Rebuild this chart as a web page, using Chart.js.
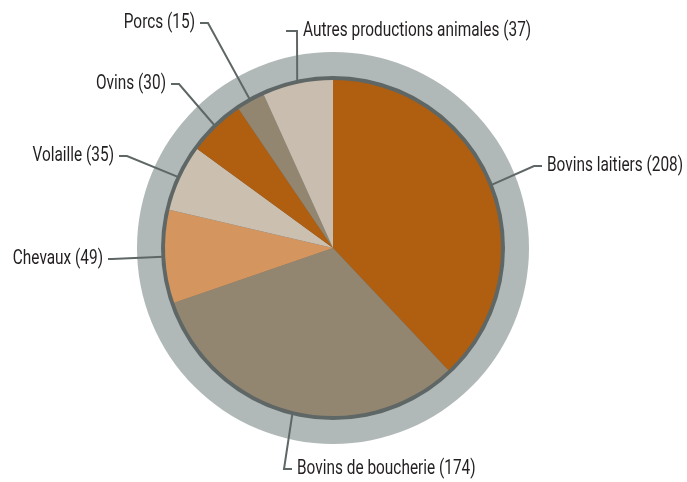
<!DOCTYPE html>
<html>
<head>
<meta charset="utf-8">
<script src="https://cdn.jsdelivr.net/npm/chart.js@4.4.0/dist/chart.umd.min.js"></script>
<style>
  html, body { margin: 0; padding: 0; background: #fff; }
  #wrap { width: 687px; height: 482px; position: relative; }
</style>
</head>
<body>
<div id="wrap"><canvas id="c" width="687" height="482"></canvas></div>
<script>
// data, clockwise from 12 o'clock
const categories = ['Bovins laitiers', 'Bovins de boucherie', 'Chevaux', 'Volaille', 'Ovins', 'Porcs', 'Autres productions animales'];
const values = [208, 174, 49, 35, 30, 15, 37];
const colors = ['#b05e0f', '#938670', '#d4955f', '#cbbfb0', '#b05e0f', '#938670', '#c8bdae'];

// label elbows (where the leader line turns horizontal) and text side
const labelSpots = [
  { x: 534, y: 166, side: 'right' },
  { x: 284, y: 469, side: 'right' },
  { x: 112, y: 259, side: 'left', stub: 4 },
  { x: 127, y: 156, side: 'left' },
  { x: 179, y: 84, side: 'left' },
  { x: 208, y: 23, side: 'left' },
  { x: 297, y: 31, side: 'left', flip: true }
];

const RING = '#b1b9b8';
const DARK = '#5e6766';
const FONT = '20px Roboto, "Liberation Sans", sans-serif';
const SQUEEZE = 0.77; // condensed look

function drawText(ctx, txt, x, y, align) {
  const w = ctx.measureText(txt).width * SQUEEZE;
  const left = align === 'right' ? x - w : x;
  ctx.save();
  ctx.translate(left, y);
  ctx.scale(SQUEEZE, 1);
  ctx.textAlign = 'left';
  ctx.fillText(txt, 0, 0);
  ctx.restore();
}

const ringPlugin = {
  id: 'ring',
  beforeDatasetsDraw(chart) {
    const arc = chart.getDatasetMeta(0).data[0];
    const { x, y, outerRadius } = arc;
    const ctx = chart.ctx;
    ctx.save();
    ctx.fillStyle = RING;
    ctx.beginPath(); ctx.arc(x, y, outerRadius + 28, 0, Math.PI * 2); ctx.fill();
    ctx.fillStyle = DARK;
    ctx.beginPath(); ctx.arc(x, y, outerRadius + 4, 0, Math.PI * 2); ctx.fill();
    ctx.restore();
  },
  afterDatasetsDraw(chart) {
    const ctx = chart.ctx;
    const arcs = chart.getDatasetMeta(0).data;
    ctx.save();
    ctx.strokeStyle = DARK;
    ctx.lineWidth = 2;
    ctx.font = FONT;
    ctx.fillStyle = '#231f20';
    ctx.textBaseline = 'middle';
    arcs.forEach((a, i) => {
      const mid = (a.startAngle + a.endAngle) / 2;
      const r = a.outerRadius + 2;
      const sx = a.x + Math.cos(mid) * r;
      const sy = a.y + Math.sin(mid) * r;
      const s = labelSpots[i];
      const len = s.stub || 8;
      const stub = s.side === 'right' ? len : -len;
      ctx.beginPath();
      ctx.moveTo(sx, sy);
      ctx.lineTo(s.x, s.y);
      ctx.lineTo(s.x + (s.flip ? -11 : stub), s.y);
      ctx.stroke();
      const txt = categories[i] + ' (' + values[i] + ')';
      if (s.flip) drawText(ctx, txt, s.x + 6, s.y, 'left');
      else if (s.side === 'right') drawText(ctx, txt, s.x + stub + 5, s.y, 'left');
      else drawText(ctx, txt, s.x + stub - 5, s.y, 'right');
    });
    ctx.restore();
  }
};

new Chart(document.getElementById('c'), {
  type: 'pie',
  data: {
    labels: categories,
    datasets: [{ data: values, backgroundColor: colors, borderWidth: 0 }]
  },
  options: {
    responsive: false,
    animation: false,
    layout: { padding: { top: 80, bottom: 66, left: 165, right: 186 } },
    plugins: { legend: { display: false }, tooltip: { enabled: false } }
  },
  plugins: [ringPlugin]
});
</script>
</body>
</html>
